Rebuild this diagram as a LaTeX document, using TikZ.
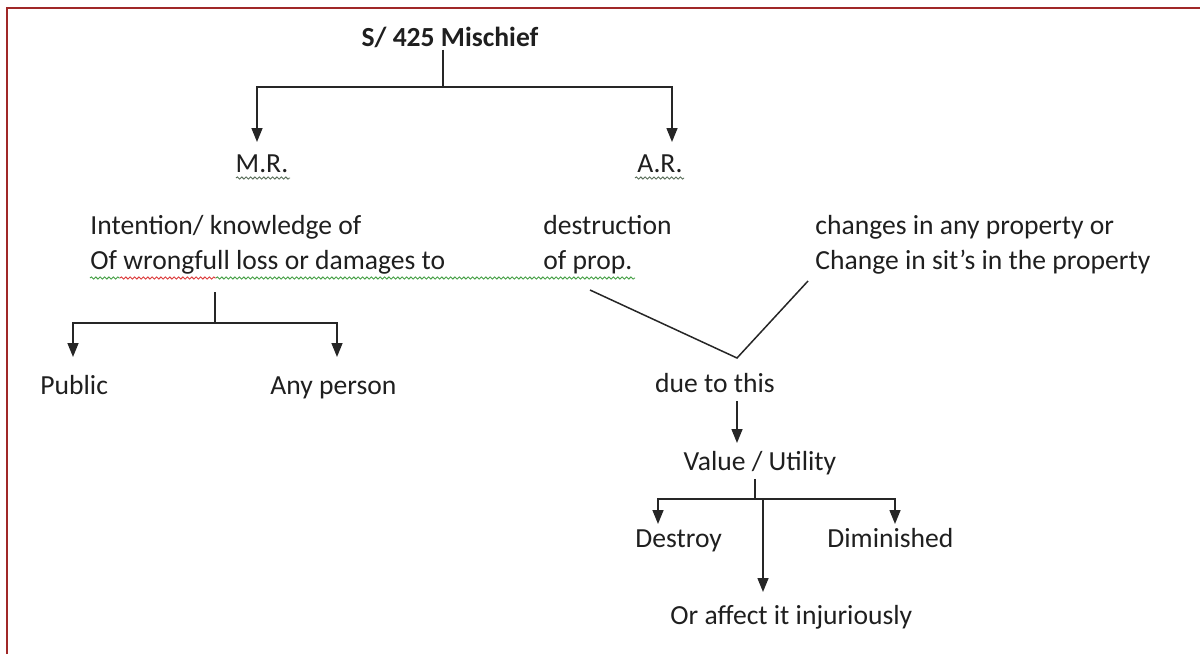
\documentclass[tikz,border=0pt]{standalone}
\usepackage{fontspec}
\setmainfont{Carlito}
\usetikzlibrary{arrows.meta,decorations.pathmorphing}
\definecolor{borderred}{RGB}{160,40,40}
\definecolor{squigreen}{RGB}{70,160,70}
\definecolor{squired}{RGB}{220,60,60}
\definecolor{squigray}{RGB}{90,110,90}
\tikzset{
  lbl/.style={inner sep=0pt, font=\fontsize{13.8pt}{16pt}\selectfont, text=black!88},
  ttl/.style={lbl, font=\fontsize{13.8pt}{16pt}\selectfont\bfseries},
  conn/.style={draw=black!85, line width=0.75pt},
  arr/.style={conn, -{Triangle[length=7pt,width=5.5pt]}},
  squig/.style={decorate, decoration={snake, amplitude=0.55pt, segment length=2.2pt}, line width=0.45pt},
}
\begin{document}
\begin{tikzpicture}[x=0.5pt,y=-0.5pt]
\useasboundingbox (0,0) rectangle (1200,654);
\draw[borderred, line width=1.2pt] (7,654) -- (7,8) -- (1200,8);

% nodes
\node[ttl, anchor=base] (title) at (450,46) {S/ 425 Mischief};
\node[lbl, anchor=base] (mr) at (262,172) {M.R.};
\node[lbl, anchor=base] (ar) at (660,172) {A.R.};
\node[lbl, anchor=base west] (int1) at (90,234) {Intention/ knowledge of};
\node[lbl, anchor=base west] (int2) at (90,269) {Of wrongfull loss or damages to};
\node[lbl, anchor=base west] (des1) at (543,234) {destruction};
\node[lbl, anchor=base west] (des2) at (543,269) {of prop.};
\node[lbl, anchor=base west] (chg1) at (815,234) {changes in any property or};
\node[lbl, anchor=base west] (chg2) at (815,269) {Change in sit’s in the property};
\node[lbl, anchor=base west] (pub) at (40,394) {Public};
\node[lbl, anchor=base west] (any) at (270,394) {Any person};
\node[lbl, anchor=base] (due) at (715,392) {due to this};
\node[lbl, anchor=base] (val) at (760,470) {Value / Utility};
\node[lbl, anchor=base west] (dst) at (635,547) {Destroy};
\node[lbl, anchor=base west] (dim) at (827,547) {Diminished};
\node[lbl, anchor=base west] (aff) at (670,624) {Or affect it injuriously};

% spell-check squiggles
\draw[squig, squigray] (236,178) -- (290,178);
\draw[squig, squigray] (635,178) -- (684,178);
\draw[squig, squigreen] (90,278) -- (120,278);
\draw[squig, squired] (120,278) -- (216,278);
\draw[squig, squigreen] (216,278) -- (635,278);

% junction coordinates
\coordinate (j1) at (443,87);
\coordinate (mrtop) at (257,142);
\coordinate (artop) at (672,142);
\coordinate (j2) at (215,323);
\coordinate (pubtop) at (73,357);
\coordinate (anytop) at (337,357);
\coordinate (vx) at (737,358);
\coordinate (vl) at (590,290);
\coordinate (vr) at (808,281);
\coordinate (j3) at (755,499);
\coordinate (dsttop) at (658,524);
\coordinate (dimtop) at (895,524);
\coordinate (afftop) at (763,592);

% connectors
\draw[conn] (j1 |- title.south) ++(0,2) -- (j1);
\draw[arr] (j1) -| (mrtop);
\draw[arr] (j1) -| (artop);
\draw[conn] (215,292) -- (j2);
\draw[arr] (j2) -| (pubtop);
\draw[arr] (j2) -| (anytop);
\draw[conn] (vl) -- (vx) -- (vr);
\draw[arr] (737,401) -- (737,443);
\draw[conn] (j3 |- val.south) ++(0,4) -- (j3);
\draw[arr] (j3) -| (dsttop);
\draw[arr] (j3) -| (dimtop);
\draw[arr] (763,499) -- (afftop);
\end{tikzpicture}
\end{document}
